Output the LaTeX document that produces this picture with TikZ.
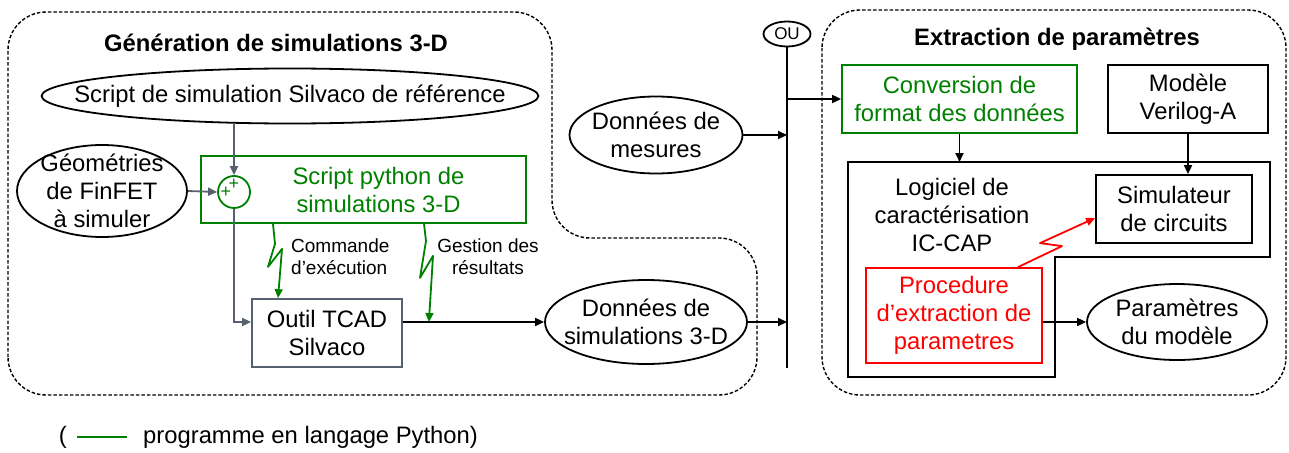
\documentclass[tikz,border=0pt]{standalone}
\usepackage{fontspec}
\setmainfont{Liberation Sans}
\usetikzlibrary{arrows.meta, shapes.geometric, positioning}
\definecolor{pygreen}{HTML}{008000}
\definecolor{procred}{HTML}{FF0000}
\definecolor{slate}{HTML}{56606F}
\newcommand{\mainsz}{\fontsize{23.8}{28}\selectfont}
\newcommand{\notesz}{\fontsize{19}{22}\selectfont}
\newcommand{\ousz}{\fontsize{17}{20}\selectfont}
\newcommand{\plussz}{\fontsize{18}{18}\selectfont}

\begin{document}
\begin{tikzpicture}[
  x=1pt, y=-1pt,
  >={Triangle[length=9pt, width=8pt]},
  every node/.style={font=\mainsz},
  oval/.style={ellipse, draw, line width=1.8pt, inner sep=-40pt, align=center},
  blockbox/.style={draw=#1, line width=1.8pt, inner sep=0pt, align=center},
  blockbox/.default=black,
  region/.style={draw, line width=1.4pt, dash pattern=on 3.5pt off 2pt, rounded corners=38pt},
  regiontitle/.style={font=\mainsz\bfseries},
  arr/.style={->, line width=1.8pt},
  slatearr/.style={->, line width=1.8pt, slate},
  pyarr/.style={->, line width=1.8pt, pygreen, line join=round},
  redarr/.style={->, line width=1.8pt, procred, line join=round},
  note/.style={font=\notesz, inner sep=0pt},
  plussign/.style={font=\plussz, text=pygreen, inner sep=0pt},
]
\useasboundingbox (0,0) rectangle (1289,452);

% ============================================================
% Dashed regions
% ============================================================
\draw[region] (8,395) -- (8,12) -- (552,12) -- (552,238) -- (757,238) -- (757,395) -- cycle;
\draw[region] (822,10) rectangle (1286,395);

\node[regiontitle] (gentitle) at (276,43) {Génération de simulations 3-D};
\node[regiontitle] (exttitle) at (1057,39) {Extraction de paramètres};

% ============================================================
% Left part: 3-D simulation generation
% ============================================================
\node[oval, minimum width=480pt, minimum height=55pt] (refscript) at (290,96)
  {Script de simulation Silvaco de référence};
\node[oval, minimum width=170pt, minimum height=92pt] (geom) at (102,191)
  {Géométries\\de FinFET\\à simuler};

% --- python script with summing junction ---
\node[blockbox=pygreen, text=pygreen, minimum width=325pt, minimum height=67pt]
  (pyscript) at (363.5,189.5)
  {\hspace*{30pt}Script python de\\\hspace*{30pt}simulations 3-D};
\node[circle, draw=pygreen, line width=1.8pt, minimum size=32pt, inner sep=0pt]
  (sum) at (234,192) {};
\node[plussign] (sumleft) at ([xshift=-8pt,yshift=0pt]sum.center) {+};
\node[plussign] (sumtop) at ([xshift=0pt,yshift=8pt]sum.center) {+};

% --- TCAD tool ---
\node[blockbox=slate, minimum width=150pt, minimum height=68pt] (outil) at (327,333)
  {Outil TCAD\\Silvaco};

\node[note, anchor=west, align=left] (cmdlabel) at (291,257) {Commande\\d’exécution};
\node[note, align=center] (reslabel) at (488,257) {Gestion des\\résultats};

% --- data ---
\node[oval, minimum width=202pt, minimum height=84pt] (simdata) at (646,322)
  {Données de\\simulations 3-D};
\node[oval, minimum width=173pt, minimum height=77pt] (mesures) at (656,135)
  {Données de\\mesures};

% --- OU bus ---
\node[oval, font=\ousz, minimum width=47pt, minimum height=25pt] (ou) at (787,34) {OU};
\coordinate (busend) at (787,368);

% ============================================================
% Right part: parameter extraction
% ============================================================
\node[blockbox=pygreen, text=pygreen, minimum width=235pt, minimum height=68pt]
  (conv) at (959.5,99) {Conversion de\\format des données};
\node[blockbox, minimum width=160pt, minimum height=68pt] (verilog) at (1188,99)
  {Modèle\\Verilog-A};

% --- IC-CAP outline ---
\coordinate (cap-nw) at (848,162);
\coordinate (cap-ne) at (1270,162);
\coordinate (cap-e) at (1270,257);
\coordinate (cap-step) at (1055,257);
\coordinate (cap-se) at (1055,377);
\coordinate (cap-sw) at (848,377);
\draw[line width=2.2pt] (cap-nw) -- (cap-ne) -- (cap-e) -- (cap-step) -- (cap-se) -- (cap-sw) -- cycle;

\node[blockbox, minimum width=156pt, minimum height=68pt] (simu) at (1174,209)
  {Simulateur\\de circuits};
\node[align=center, inner sep=0pt] (icctext) at (952,215)
  {Logiciel de\\caractérisation\\IC-CAP};
\node[blockbox=procred, text=procred, minimum width=176pt, minimum height=95pt]
  (proc) at (954,315.5) {Procedure\\d’extraction de\\parametres};
\node[oval, minimum width=180pt, minimum height=76pt] (params) at (1177,322)
  {Paramètres\\du modèle};

% ============================================================
% Connectors
% ============================================================
\draw[slatearr] (sum.north |- refscript.south) -- (sum.north);
\draw[slatearr] (geom.east) -- (sum.west);
\draw[slatearr] (sum.south) |- ([yshift=11pt]outil.west);

\draw[pyarr] ([xshift=-90.5pt]pyscript.south) -- ++(2,20) -- ++(-7,23) -- ++(14,-18)
  -- ([xshift=-49pt]outil.north);
\coordinate (resjoin) at ([xshift=26pt,yshift=11pt]outil.east);
\draw[arr] ([yshift=11pt]outil.east) -- (simdata.west);
\draw[pyarr] ([xshift=60.5pt]pyscript.south) -- ++(2,17) -- ++(-6,37) -- ++(13,-22)
  -- (resjoin);

\draw[line width=1.8pt] (ou.south) -- (busend);
\draw[arr] (mesures.east) -- (mesures.east -| ou.south);
\draw[arr] (simdata.east) -- (simdata.east -| ou.south);
\draw[arr] (conv.west -| ou.south) -- (conv.west);

\draw[arr] (conv.south) -- (conv.south |- cap-nw);
\draw[arr] (verilog.south) -- (verilog.south |- simu.north);
\draw[redarr] ([xshift=64pt]proc.north) -- ++(44,-21) -- ++(-22,-3)
  -- ([yshift=-9pt]simu.west);
\draw[arr] (proc.east |- params.west) -- (params.west);

% ============================================================
% Legend
% ============================================================
\node[inner sep=0pt, anchor=west] (legtext) at (143,437) {programme en langage Python)};
\node[inner sep=0pt, anchor=east] (legparen) at (67,437) {(};
\draw[pygreen, line width=2.5pt] ([xshift=10pt]legparen.east) -- ([xshift=-16pt]legtext.west);

\end{tikzpicture}
\end{document}
